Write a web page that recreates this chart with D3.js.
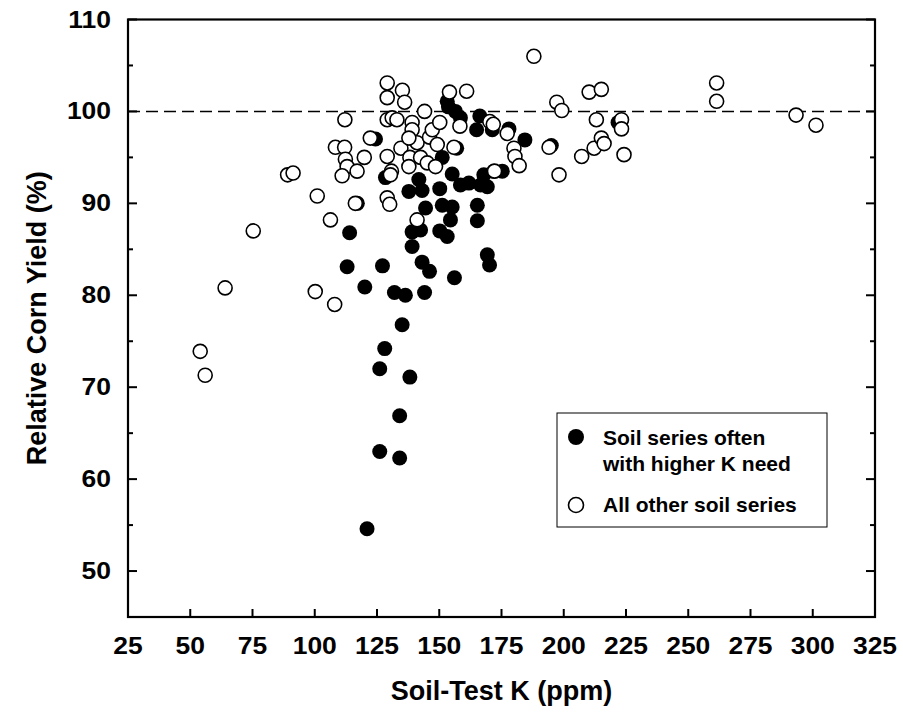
<!DOCTYPE html>
<html>
<head>
<meta charset="utf-8">
<script src="https://cdn.jsdelivr.net/npm/d3@7"></script>
<style>
  body { margin: 0; background: #fff; }
  text { font-family: "Liberation Sans", Arial, sans-serif; font-weight: bold; fill: #000; }
  .tick_labels { font-size: 23px; }
  .axis_titles { font-size: 27px; }
  .legend_labels { font-size: 21px; }
</style>
</head>
<body>
<svg id="svg-soilk" width="903" height="717"></svg>
<script>
// soil series often with higher K need: [soil-test K, relative yield]
var higherK = [[153.2,101.1],[153.7,100.5],[156.5,100.0],[158.5,99.3],[166.3,99.5],[165,98.0],
               [171.3,98.0],[178,98.1],[184.4,96.9],[124.4,97.0],[128.4,92.8],[151.2,95.0],
               [157,96.0],[141.8,92.6],[137.8,91.3],[143.1,91.4],[150.2,91.6],[155.2,93.2],
               [158.5,92.0],[161.9,92.2],[166.6,92.0],[169.3,91.8],[167.9,93.1],[171.9,93.5],
               [175.3,93.5],[195,96.3],[221.8,98.8],[117.1,90.0],[144.5,89.5],[151.2,89.8],
               [155.2,89.6],[165.3,89.8],[165.3,88.1],[154.5,88.2],[150.2,87.0],[153.2,86.4],
               [139.1,86.9],[142.5,87.1],[139.1,85.3],[114,86.8],[113,83.1],[127.2,83.2],
               [120.1,80.9],[132,80.3],[136.4,80.0],[144.1,80.3],[143.1,83.6],[146.1,82.6],
               [156.1,81.9],[169.3,84.4],[170.2,83.3],[135.1,76.8],[128.1,74.2],[126.1,72.0],
               [138.2,71.1],[134.1,66.9],[126.1,63.0],[134.1,62.3],[121,54.6]];
// all other soil series
var other = [[54,73.9],[56,71.3],[64,80.8],[75.3,87.0],[89.1,93.1],[91.3,93.3],[101,90.8],
             [100.2,80.4],[106.3,88.2],[108,79.0],[108.3,96.1],[112,96.1],[112.1,99.1],
             [112.3,94.8],[113,94.0],[119.9,95.0],[117,93.5],[111,93.0],[116.3,90.0],
             [122.3,97.1],[129.1,103.1],[129.1,101.5],[135.2,102.3],[136.1,101.0],[129.1,99.1],
             [131.1,99.3],[133,99.1],[139.1,98.8],[139.1,98.0],[144.1,100.0],[129.1,95.1],
             [130.8,93.5],[134.6,96.0],[138.2,95.0],[137.8,94.0],[141.1,96.6],[137.8,97.1],
             [129.1,90.6],[130.1,89.9],[141.1,88.2],[142.5,95.0],[145.2,94.4],[148.5,94.0],
             [146.1,97.2],[149.2,96.4],[147.2,98.0],[150.2,98.8],[158.3,98.4],[154.1,102.1],
             [161,102.2],[155.9,96.1],[130.4,93.1],[170.3,98.9],[171.7,98.6],[177.3,97.6],
             [180,96.0],[180.4,95.1],[182.1,94.1],[172.2,93.5],[188,106.0],[197.2,101.0],
             [199.2,100.1],[194.1,96.1],[198.1,93.1],[207.2,95.1],[210.2,102.1],[215.1,102.4],
             [213.1,99.1],[212.2,96.0],[215.1,97.1],[216.2,96.5],[223.2,99.1],[223.2,98.1],
             [224.2,95.3],[261.4,103.1],[261.4,101.1],[293.3,99.6],[301.3,98.5]];
var xTicks = [25,50,75,100,125,150,175,200,225,250,275,300,325];
var yTicks = [50,60,70,80,90,100,110];
var yMinor = [45,55,65,75,85,95,105];
var refLine = 100;
var legendLabels = [["Soil series often", "with higher K need"], ["All other soil series"]];

var svg = d3.select("#svg-soilk");
var pLeft = 128, pRight = 875, pTop = 19.5, pBottom = 617;
var xScale = d3.scaleLinear().domain([25,325]).range([pLeft, pRight]);
var yScale = d3.scaleLinear().domain([45,110]).range([pBottom, pTop]);
var stretch = 1.15;

// reference line at 100%
svg.append("line")
    .attr("x1", xScale(25))
    .attr("x2", xScale(325))
    .attr("y1", yScale(refLine))
    .attr("y2", yScale(refLine))
    .style("stroke", "#000")
    .style("stroke-width", 1.5)
    .style("stroke-dasharray", "12,6");

svg.selectAll("higherK_dots")
    .data(higherK)
    .enter()
    .append("circle")
    .attr("cx", function(d) { return xScale(d[0]); })
    .attr("cy", function(d) { return yScale(d[1]); })
    .attr("r", 7.5)
    .style("fill", "#000");

svg.selectAll("other_dots")
    .data(other)
    .enter()
    .append("circle")
    .attr("cx", function(d) { return xScale(d[0]); })
    .attr("cy", function(d) { return yScale(d[1]); })
    .attr("r", 7)
    .style("fill", "#fff")
    .style("stroke", "#000")
    .style("stroke-width", 1.6);

// frame
svg.append("rect")
    .attr("x", pLeft)
    .attr("y", pTop)
    .attr("width", pRight-pLeft)
    .attr("height", pBottom-pTop)
    .style("fill", "none")
    .style("stroke", "#000")
    .style("stroke-width", 2.2);

// ticks, all pointing inward
svg.selectAll("xTickLines")
    .data(xTicks)
    .enter()
    .append("line")
    .attr("x1", function(d) { return xScale(d); })
    .attr("x2", function(d) { return xScale(d); })
    .attr("y1", pBottom)
    .attr("y2", pBottom-8)
    .style("stroke", "#000")
    .style("stroke-width", 2);
[pLeft, pRight].forEach(function(x0) {
  var dir = x0 == pLeft ? 1 : -1;
  svg.selectAll("yTickLines")
      .data(yTicks.concat(yMinor))
      .enter()
      .append("line")
      .attr("x1", x0)
      .attr("x2", function(d) { return x0 + dir*(d % 10 == 0 ? 9 : 5); })
      .attr("y1", function(d) { return yScale(d); })
      .attr("y2", function(d) { return yScale(d); })
      .style("stroke", "#000")
      .style("stroke-width", 2);
});

svg.selectAll("xTickText")
    .data(xTicks)
    .enter()
    .append("text")
    .attr("class", "tick_labels")
    .attr("transform", function(d) {
      return "translate(" + xScale(d) + ",654) scale(" + stretch + ",1)";
    })
    .style("text-anchor", "middle")
    .text(function(d) { return d; });
svg.selectAll("yTickText")
    .data(yTicks)
    .enter()
    .append("text")
    .attr("class", "tick_labels")
    .attr("transform", function(d) {
      return "translate(111," + (yScale(d) + 8) + ") scale(" + stretch + ",1)";
    })
    .style("text-anchor", "end")
    .text(function(d) { return d; });

svg.append("text")
    .attr("class", "axis_titles")
    .attr("x", (pLeft+pRight)/2)
    .attr("y", 700)
    .style("text-anchor", "middle")
    .text("Soil-Test K (ppm)");
svg.append("text")
    .attr("class", "axis_titles")
    .attr("transform", "translate(46," + (pTop+pBottom)/2 + ") rotate(-90)")
    .style("text-anchor", "middle")
    .text("Relative Corn Yield (%)");

// legend
var lg = svg.append("g");
lg.append("rect")
    .attr("x", 557)
    .attr("y", 413)
    .attr("width", 270)
    .attr("height", 114)
    .style("fill", "#fff")
    .style("stroke", "#000")
    .style("stroke-width", 1);
lg.append("circle")
    .attr("cx", 576)
    .attr("cy", 437)
    .attr("r", 8)
    .style("fill", "#000");
lg.append("circle")
    .attr("cx", 576)
    .attr("cy", 505)
    .attr("r", 7.5)
    .style("fill", "#fff")
    .style("stroke", "#000")
    .style("stroke-width", 1.6);
lg.append("text")
    .attr("class", "legend_labels")
    .attr("x", 603)
    .attr("y", 445)
    .text(legendLabels[0][0]);
lg.append("text")
    .attr("class", "legend_labels")
    .attr("x", 603)
    .attr("y", 471)
    .text(legendLabels[0][1]);
lg.append("text")
    .attr("class", "legend_labels")
    .attr("x", 603)
    .attr("y", 512)
    .text(legendLabels[1][0]);
</script>
</body>
</html>
